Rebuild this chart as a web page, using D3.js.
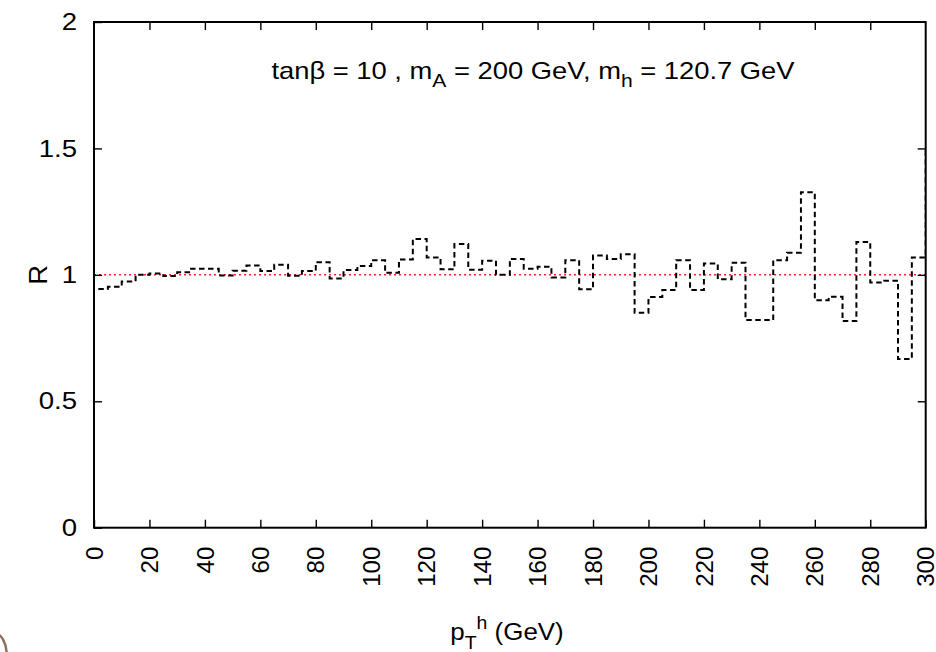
<!DOCTYPE html>
<html>
<head>
<meta charset="utf-8">
<script src="https://cdn.jsdelivr.net/npm/d3@7"></script>
<style>
  html, body { margin: 0; padding: 0; background: #fff; }
  svg { display: block; font-family: "Liberation Sans", Arial, Helvetica, sans-serif; }
</style>
</head>
<body>
<svg id="chart" width="936" height="652"></svg>
<script>
// Ratio R in 5 GeV bins of the Higgs transverse momentum
const binWidth = 5;
const binLow = d3.range(0, 300, binWidth);
const ratio = [
  0.944, 0.953, 0.974, 1.000, 1.005, 0.995, 1.010, 1.024, 1.024, 0.997,
  1.016, 1.037, 1.015, 1.040, 0.996, 1.015, 1.050, 0.986, 1.019, 1.035,
  1.058, 1.008, 1.061, 1.142, 1.069, 1.022, 1.122, 1.020, 1.056, 1.000,
  1.063, 1.024, 1.032, 0.990, 1.058, 0.943, 1.077, 1.063, 1.081, 0.850,
  0.912, 0.940, 1.058, 0.940, 1.045, 0.983, 1.048, 0.821, 0.821, 1.058,
  1.087, 1.327, 0.900, 0.913, 0.817, 1.130, 0.970, 0.977, 0.667, 1.069
];
// value of the bin just past the plotted range (only its edge shows)
const overflowBin = { low: 300, value: 1.5 };
const referenceLevel = 1;

const xTicks = [0, 20, 40, 60, 80, 100, 120, 140, 160, 180, 200, 220, 240, 260, 280, 300];
const yTicks = [0, 0.5, 1, 1.5, 2];
const yTickLabels = ["0", "0.5", "1", "1.5", "2"];

const svg = d3.select("#chart");
const plotL = 94, plotR = 925.7, plotT = 22, plotB = 527.7;

const x = d3.scaleLinear().domain([0, 300]).range([plotL, plotR]);
const y = d3.scaleLinear().domain([0, 2]).range([plotB, plotT]);

svg.append("defs").append("clipPath").attr("id", "plotClip")
  .append("rect")
  .attr("x", plotL).attr("y", plotT)
  .attr("width", plotR - plotL).attr("height", plotB - plotT);

// reference line R = 1
svg.append("line")
  .attr("x1", x(0)).attr("x2", x(300))
  .attr("y1", y(referenceLevel)).attr("y2", y(referenceLevel))
  .attr("stroke", "#ff2020")
  .attr("stroke-width", 1.5)
  .attr("stroke-dasharray", "2,3");

// histogram steps
const pts = [[0, 0]];
binLow.forEach((lo, i) => pts.push([lo, ratio[i]]));
pts.push([overflowBin.low, overflowBin.value]);
pts.push([overflowBin.low + binWidth, overflowBin.value]);

const stepLine = d3.line()
  .x(d => x(d[0]))
  .y(d => y(d[1]))
  .curve(d3.curveStepAfter);

svg.append("path")
  .attr("clip-path", "url(#plotClip)")
  .attr("d", stepLine(pts))
  .attr("fill", "none")
  .attr("stroke", "#000")
  .attr("stroke-width", 2)
  .attr("stroke-dasharray", "5.5,3.5");

// axes with inward ticks on all four sides
const tickLen = 8;
const fontSize = 24;

const axB = d3.axisBottom(x).tickValues(xTicks).tickSize(-tickLen).tickFormat(d3.format("d"));
const gB = svg.append("g").attr("transform", `translate(0,${plotB})`).call(axB);
gB.selectAll("text")
  .attr("transform", "rotate(-90)")
  .attr("x", -19).attr("y", 0).attr("dy", "0.34em")
  .style("text-anchor", "end");

const axT = d3.axisTop(x).tickValues(xTicks.slice(1, -1)).tickSize(-tickLen).tickFormat("");
svg.append("g").attr("transform", `translate(0,${plotT})`).call(axT);

const axL = d3.axisLeft(y).tickValues(yTicks).tickSize(-tickLen)
  .tickFormat((d, i) => yTickLabels[i]).tickPadding(17);
const gL = svg.append("g").attr("transform", `translate(${plotL},0)`).call(axL);
gL.selectAll("text")
  .attr("x", 0)
  .attr("transform", "translate(-17,0) scale(1.15,1)");

const axR = d3.axisRight(y).tickValues(yTicks.slice(1, -1)).tickSize(-tickLen).tickFormat("");
svg.append("g").attr("transform", `translate(${plotR},0)`).call(axR);

svg.selectAll(".domain").remove();
svg.selectAll(".tick line").attr("stroke", "#000").attr("stroke-width", 1.4);
svg.selectAll(".tick text")
  .attr("fill", "#000")
  .style("font-size", fontSize + "px")
  .style("font-family", "'Liberation Sans', Arial, sans-serif");

// plot frame
svg.append("rect")
  .attr("x", plotL).attr("y", plotT)
  .attr("width", plotR - plotL).attr("height", plotB - plotT)
  .attr("fill", "none")
  .attr("stroke", "#000")
  .attr("stroke-width", 2);

// y axis title
svg.append("text")
  .attr("transform", `translate(47,${y(1)}) rotate(-90) scale(1.1,1)`)
  .attr("text-anchor", "middle")
  .style("font-size", "25px")
  .text("R");

// x axis title
const xt = svg.append("text")
  .attr("x", 0).attr("y", 0)
  .attr("transform", "translate(507,640) scale(1.08,1)")
  .attr("text-anchor", "middle")
  .style("font-size", fontSize + "px");
xt.append("tspan").text("p");
xt.append("tspan").attr("dy", 9).style("font-size", "18px").text("T");
xt.append("tspan").attr("dy", -20).style("font-size", "18px").text("h");
xt.append("tspan").attr("dy", 11).text(" (GeV)");

// parameter label
const pl = svg.append("text")
  .attr("x", 0).attr("y", 0)
  .attr("transform", "translate(533,78.5) scale(1.14,1)")
  .attr("text-anchor", "middle")
  .style("font-size", fontSize + "px");
pl.append("tspan").text("tanβ = 10 , m");
pl.append("tspan").attr("dy", 8).style("font-size", "18.5px").text("A");
pl.append("tspan").attr("dy", -8).text(" = 200 GeV, m");
pl.append("tspan").attr("dy", 8).style("font-size", "18.5px").text("h");
pl.append("tspan").attr("dy", -8).text(" = 120.7 GeV");

// stray glyph edge in the lower-left corner
svg.append("ellipse")
  .attr("cx", -6).attr("cy", 655).attr("rx", 12.7).attr("ry", 22)
  .attr("fill", "none")
  .attr("stroke", "#8c7060")
  .attr("stroke-width", 2.5);
</script>
</body>
</html>
